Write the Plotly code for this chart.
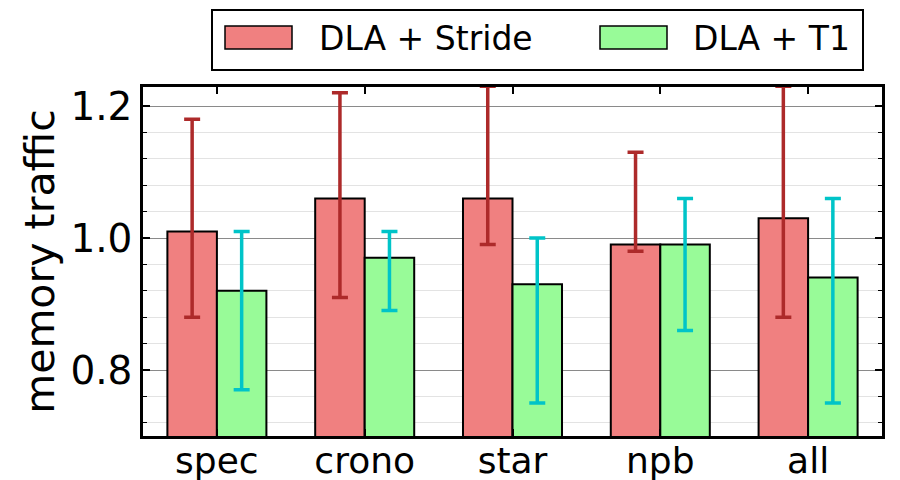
import plotly.graph_objects as go

categories = ["spec", "crono", "star", "npb", "all"]
stride_vals = [1.01, 1.06, 1.06, 0.99, 1.03]
stride_hi = [1.18, 1.22, 1.23, 1.13, 1.23]
stride_lo = [0.88, 0.91, 0.99, 0.98, 0.88]
t1_vals = [0.92, 0.97, 0.93, 0.99, 0.94]
t1_hi = [1.01, 1.01, 1.00, 1.06, 1.06]
t1_lo = [0.77, 0.89, 0.75, 0.86, 0.75]
series_names = ["DLA + Stride", "DLA + T1"]
y_label = "memory traffic"

FONT = "DejaVu Sans"
C_STRIDE = "#f08080"
C_T1 = "#98fb98"
E_STRIDE = "#ad2a2a"
E_T1 = "#00c4c8"

fig = go.Figure()
fig.add_trace(go.Bar(
    x=categories, y=stride_vals, name=series_names[0],
    marker=dict(color=C_STRIDE, line=dict(color="black", width=2)),
    error_y=dict(type="data", symmetric=False,
                 array=[h - v for h, v in zip(stride_hi, stride_vals)],
                 arrayminus=[v - l for v, l in zip(stride_vals, stride_lo)],
                 color=E_STRIDE, thickness=3.5, width=8),
    showlegend=False,
))
fig.add_trace(go.Bar(
    x=categories, y=t1_vals, name=series_names[1],
    marker=dict(color=C_T1, line=dict(color="black", width=2)),
    error_y=dict(type="data", symmetric=False,
                 array=[h - v for h, v in zip(t1_hi, t1_vals)],
                 arrayminus=[v - l for v, l in zip(t1_vals, t1_lo)],
                 color=E_T1, thickness=3.5, width=8),
    showlegend=False,
))

fig.update_layout(
    width=900, height=480,
    margin=dict(l=143, r=18, t=87, b=44),
    paper_bgcolor="white", plot_bgcolor="white",
    barmode="group", bargap=0.33, bargroupgap=0,
    font=dict(family=FONT, color="black"),
)
fig.update_xaxes(
    range=[-0.5, 4.5], automargin=False,
    showline=True, linecolor="black", linewidth=2.5, mirror="allticks",
    ticks="inside", ticklen=7, tickwidth=1.5, tickcolor="black",
    ticklabelstandoff=-9,
    showgrid=False, tickfont=dict(size=36, family=FONT),
)
fig.update_yaxes(
    range=[0.7, 1.2288], dtick=0.2, tick0=0.8, tickformat=".1f", automargin=False,
    showline=True, linecolor="black", linewidth=2.5, mirror="allticks",
    ticks="inside", ticklen=7, tickwidth=1.5, tickcolor="black",
    showgrid=True, gridcolor="#8a8a8a", gridwidth=1,
    zeroline=False,
    minor=dict(dtick=0.04, tick0=0.8, showgrid=True, gridcolor="#e3e3e3", gridwidth=1,
               ticks="inside", ticklen=4, tickcolor="black", tickwidth=1),
    tickfont=dict(size=39, family=FONT),
    title=dict(text=y_label, font=dict(size=41, family=FONT), standoff=4),
)

# Legend drawn manually (wide swatches as in reference)
def px(xp):
    return (xp - 143) / 739.0

def py(yp):
    return (436 - yp) / 349.0

shapes = [
    dict(type="rect", xref="paper", yref="paper", x0=px(212), x1=px(863), y0=py(70), y1=py(10),
         line=dict(color="black", width=2), fillcolor="white", layer="above"),
    dict(type="rect", xref="paper", yref="paper", x0=px(225), x1=px(292), y0=py(49), y1=py(26),
         line=dict(color="black", width=1.5), fillcolor=C_STRIDE, layer="above"),
    dict(type="rect", xref="paper", yref="paper", x0=px(600), x1=px(667), y0=py(49), y1=py(26),
         line=dict(color="black", width=1.5), fillcolor=C_T1, layer="above"),
]
fig.update_layout(shapes=shapes)
fig.add_annotation(xref="paper", yref="paper", x=px(317), y=py(38), text=series_names[0],
                   showarrow=False, xanchor="left", yanchor="middle",
                   font=dict(size=33, family=FONT, color="black"))
fig.add_annotation(xref="paper", yref="paper", x=px(691), y=py(38), text=series_names[1],
                   showarrow=False, xanchor="left", yanchor="middle",
                   font=dict(size=33, family=FONT, color="black"))

fig.write_html("out.html")
